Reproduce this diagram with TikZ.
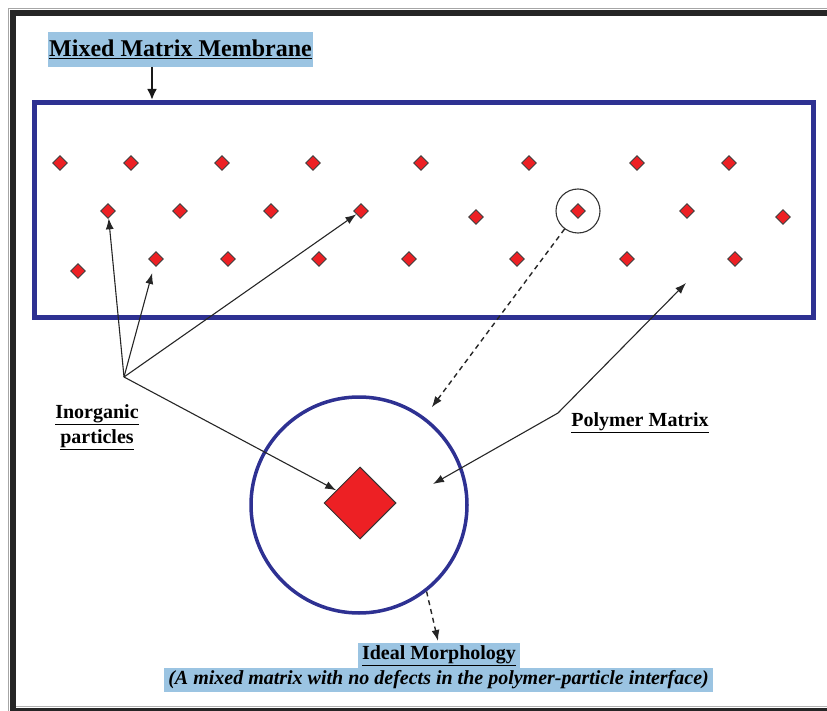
\documentclass[tikz,border=0pt]{standalone}
\usepackage{fontspec}
\setmainfont{Liberation Serif}
\usetikzlibrary{shapes.geometric,arrows.meta,calc}
\definecolor{memblue}{RGB}{46,49,146}
\definecolor{partred}{RGB}{237,32,36}
\definecolor{tagblue}{RGB}{155,196,226}
\begin{document}
\begin{tikzpicture}[x=1pt,y=-1pt,
  particle/.style={diamond,draw=black!75,fill=partred,line width=0.9pt,inner sep=0pt,minimum size=15pt},
  pointer/.style={draw=black!85,line width=1.1pt,-{Latex[length=11pt,width=8pt]}},
  dashpointer/.style={pointer,dash pattern=on 5pt off 4pt,line width=1.4pt},
  labeltext/.style={font=\fontsize{20}{25}\selectfont\bfseries,inner sep=0pt,align=center},
  tagbox/.style={fill=tagblue,inner sep=0pt}
]
\useasboundingbox (0,0) rectangle (827,711);
\clip (0,0) rectangle (827,711);

% page frame
\draw[black!35,line width=1.5pt] (8.5,1000) -- (8.5,8.5) -- (1000,8.5);
\draw[black!85,line width=6pt] (13,13) rectangle (1000,711);
\draw[black!30,line width=1pt] (16,706) -- (1000,706);

% membrane
\node[draw=memblue,line width=5pt,minimum width=779pt,minimum height=215pt,inner sep=0pt] (mem) at (424,210) {};

% particles in the membrane
\foreach \x [count=\i] in {60,131,222,313,421,529,637,729}
  \node[particle] (a\i) at (\x,163) {};
\foreach \x/\y [count=\i] in {108/211,180/211,271/211,361/211,476/217,578/211,687/211,783/217}
  \node[particle] (b\i) at (\x,\y) {};
\foreach \x/\y [count=\i] in {78/271,156/259,228/259,319/259,409/259,517/259,627/259,735/259}
  \node[particle] (c\i) at (\x,\y) {};

% magnified particle
\node[circle,draw=black!80,line width=1.1pt,minimum size=44pt,inner sep=0pt] (sc) at (b6) {};
\node[circle,draw=memblue,line width=3.5pt,minimum size=216pt,inner sep=0pt] (bigc) at (359,505) {};
\node[diamond,draw=black!80,fill=partred,line width=1pt,inner sep=0pt,minimum size=72pt] (bigd) at (360,503) {};
\draw[dashpointer,shorten >=12pt] (sc) -- (bigc);

% title
\node[tagbox,minimum width=265pt,minimum height=35pt] (mmm) at (180.5,49.5)
  {\fontsize{24}{27}\selectfont\bfseries\underline{Mixed Matrix Membrane}};
\coordinate (mmmfoot) at (152,67);
\draw[black!90,line width=2.5pt,-{Latex[length=11pt,width=10pt]}] (mmmfoot) -- (mmmfoot |- mem.north);

% inorganic particles
\node[labeltext] (inorg) at (97,427) {\underline{Inorganic}\\\underline{particles}};
\coordinate (hub) at (124,377);
\draw[pointer] (hub) -- (b1);
\draw[pointer,shorten >=8pt] (hub) -- (c2);
\draw[pointer] (hub) -- (b4);
\draw[pointer] (hub) -- (bigd);

% polymer matrix
\node[labeltext] (poly) at (640,423) {\underline{Polymer Matrix}};
\coordinate (bend) at (558,413);
\coordinate (pmtop) at (686,283);
\coordinate (pmin) at (433,484);
\draw[pointer] (bend) -- (pmtop);
\draw[pointer] (bend) -- (pmin);

% caption
\node[tagbox,minimum width=162pt,minimum height=25pt] (ideal) at (439,655.5)
  {\fontsize{20}{24}\selectfont\bfseries\underline{Ideal Morphology}};
\node[tagbox,minimum width=549pt,minimum height=24pt] (idealsub) at (438.5,680)
  {\fontsize{20}{24}\selectfont\bfseries\itshape (A mixed matrix with no defects in the polymer-particle interface)};
\coordinate (idealtip) at (438,641);
\draw[dashpointer] (bigc.-52) -- (idealtip);
\end{tikzpicture}
\end{document}
